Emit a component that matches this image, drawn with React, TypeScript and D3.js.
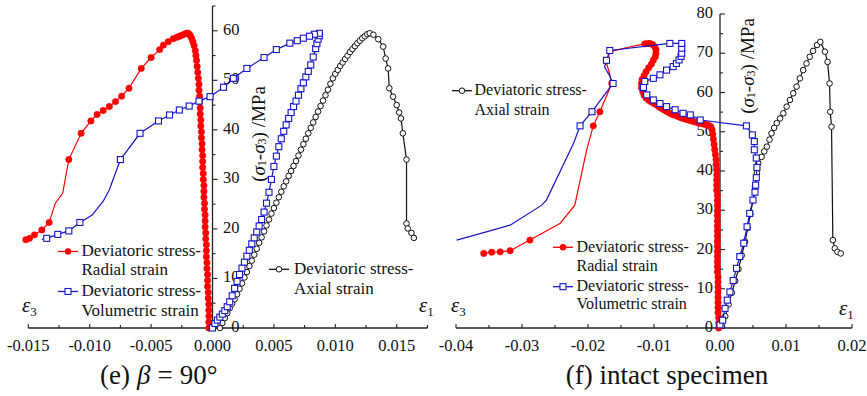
import React from "react";
import * as d3 from "d3";

// [strain, deviatoric stress (MPa), marker?]  marker flag 0 = line vertex only
type Pt = [number, number, number?];

// ---------- (e) beta = 90 deg ----------
const eRadial: Pt[] = [
  [-0.0003, 0], [-0.0003, 1.2], [-0.0003, 2.4], [-0.0003, 3.6], [-0.0003, 4.8], [-0.00035, 6], [-0.00035, 7.2],
  [-0.0004, 8.4], [-0.0004, 9.6], [-0.0004, 10.8], [-0.00045, 12], [-0.00045, 13.2], [-0.0005, 14.4],
  [-0.0005, 15.6], [-0.0005, 16.8], [-0.00055, 18], [-0.00055, 19.2], [-0.0006, 20.4], [-0.0006, 21.6],
  [-0.0006, 22.8], [-0.00065, 24], [-0.00065, 25.2], [-0.0007, 26.4], [-0.0007, 27.6], [-0.0007, 28.8],
  [-0.00075, 30], [-0.00075, 31.2], [-0.0008, 32.4], [-0.0008, 33.6], [-0.0008, 34.8], [-0.00085, 36],
  [-0.00085, 37.2], [-0.0009, 38.4], [-0.0009, 39.6], [-0.00095, 40.8], [-0.00095, 42], [-0.001, 43.2],
  [-0.001, 44.4], [-0.00105, 45.6], [-0.00105, 46.8], [-0.0011, 48], [-0.0011, 49.2], [-0.00115, 50.4],
  [-0.0012, 51.6], [-0.00125, 52.8], [-0.0013, 54], [-0.00135, 55], [-0.0014, 56], [-0.0015, 57],
  [-0.0016, 57.8], [-0.0017, 58.5], [-0.0018, 59], [-0.0019, 59.3], [-0.002, 59.5], [-0.0021, 59.5],
  [-0.0023, 59.3], [-0.0025, 59.1], [-0.0027, 58.9], [-0.0029, 58.7], [-0.0032, 58.4], [-0.0036, 57.8],
  [-0.004, 57.1], [-0.0043, 56.2], [-0.005, 54.6], [-0.0058, 52.4], [-0.0068, 48.4], [-0.0074, 46.8],
  [-0.0079, 45.7], [-0.0084, 44.7], [-0.0089, 43.9], [-0.0094, 43.1], [-0.0099, 41.8], [-0.0107, 39.3],
  [-0.0117, 34.0], [-0.0122, 27.2, 0], [-0.0128, 25.2, 0], [-0.0133, 21.3], [-0.0139, 19.8], [-0.0145, 18.8],
  [-0.0149, 18.1], [-0.0152, 17.8],
];

const eVolumetric: Pt[] = [
  [0.0, 0.0], [0.0002, 0.9], [0.0004, 1.6], [0.0006, 2.2], [0.0008, 2.8], [0.001, 3.5], [0.0012, 4.3],
  [0.0014, 5.3], [0.0016, 6.5], [0.0018, 8.0], [0.002, 9.4], [0.0022, 10.8], [0.0024, 12.1], [0.0026, 13.3],
  [0.0028, 14.5], [0.003, 15.7], [0.0032, 17.0], [0.0034, 18.2], [0.0036, 19.4], [0.0038, 20.6],
  [0.004, 21.9], [0.0042, 23.4], [0.0044, 25.2], [0.0046, 27.4], [0.0048, 30.0], [0.005, 32.6],
  [0.0052, 34.7], [0.0054, 36.6], [0.0056, 38.2], [0.0058, 39.7], [0.006, 41.0], [0.0062, 42.3],
  [0.0064, 43.5], [0.0066, 44.7], [0.0068, 45.8], [0.007, 47.0], [0.0072, 48.3], [0.0074, 49.5],
  [0.0076, 50.7], [0.0078, 51.8], [0.008, 53.1], [0.0082, 54.7], [0.0084, 56.4], [0.0085, 57.4],
  [0.0086, 58.3], [0.0087, 59.0], [0.0087, 59.5],
  [0.0083, 59.3], [0.0079, 58.9], [0.0074, 58.5], [0.0069, 58.0], [0.0063, 57.5], [0.0052, 56.2],
  [0.0042, 54.6], [0.0028, 52.4], [0.0017, 50.4], [0.0009, 48.6], [-0.0002, 46.7], [-0.0011, 45.8],
  [-0.0019, 44.8], [-0.0027, 44.0], [-0.0035, 43.0], [-0.0044, 41.8], [-0.0059, 39.3], [-0.0075, 34.0],
  [-0.0084, 27.9, 0], [-0.0089, 25.6, 0], [-0.0098, 22.8, 0], [-0.0108, 21.3], [-0.0117, 19.6],
  [-0.0126, 18.9], [-0.0135, 18.1], [-0.0139, 17.9, 0],
];

const eAxial: Pt[] = [
  [0.0006, 0], [0.0008, 1], [0.001, 2], [0.0012, 3], [0.0014, 4], [0.0016, 4.9], [0.0018, 5.8],
  [0.002, 6.8], [0.0022, 7.9], [0.0024, 9.0], [0.0026, 10.2], [0.0028, 11.3], [0.003, 12.5],
  [0.0032, 13.6], [0.0034, 14.8], [0.0036, 16.0], [0.0038, 17.2], [0.004, 18.3], [0.0042, 19.5],
  [0.0044, 20.7], [0.0046, 21.9], [0.0048, 23.1], [0.005, 24.2], [0.0052, 25.3], [0.0054, 26.4],
  [0.0056, 27.5], [0.0058, 28.6], [0.006, 29.6], [0.0062, 30.7], [0.0064, 31.7], [0.0066, 32.7],
  [0.0068, 33.7], [0.007, 34.8], [0.0072, 36.0], [0.0074, 37.1], [0.0076, 38.2], [0.0078, 39.3],
  [0.008, 40.4], [0.0082, 41.5], [0.0084, 42.6], [0.0086, 43.7], [0.0088, 44.8], [0.009, 45.9],
  [0.0092, 47.0], [0.0094, 48.1], [0.0096, 49.3], [0.0098, 50.4], [0.01, 51.3], [0.0102, 52.1],
  [0.0104, 52.9], [0.0106, 53.6], [0.0108, 54.3], [0.011, 55.0], [0.0112, 55.7], [0.0114, 56.3],
  [0.0116, 56.9], [0.0118, 57.5], [0.012, 58.0], [0.0122, 58.5], [0.0124, 58.9], [0.0126, 59.3],
  [0.0128, 59.5], [0.0131, 59.2], [0.0135, 58.3], [0.0139, 56.8], [0.0141, 54.4], [0.0143, 52.4],
  [0.0144, 48.4], [0.0147, 46.7], [0.015, 45.0], [0.0152, 43.5], [0.01535, 42.3], [0.0155, 39.3],
  [0.0158, 34.0], [0.0158, 21.1], [0.0159, 20.1], [0.0162, 19.2], [0.0164, 18.2],
];

// ---------- (f) intact specimen ----------
const fRadial: Pt[] = [
  [-0.0002, 0], [-0.0002, 1.3], [-0.0002, 2.6], [-0.0003, 3.9], [-0.0003, 5.2], [-0.0003, 6.5],
  [-0.0003, 7.8], [-0.0003, 9.1], [-0.0003, 10.4], [-0.0003, 11.7], [-0.0003, 13], [-0.0004, 14.3],
  [-0.0004, 15.6], [-0.0004, 16.9], [-0.0004, 18.2], [-0.0004, 19.5], [-0.0004, 20.8], [-0.0004, 22.1],
  [-0.0004, 23.4], [-0.0004, 24.7], [-0.0004, 26], [-0.0004, 27.3], [-0.0004, 28.6], [-0.0004, 29.9],
  [-0.0004, 31.2], [-0.0004, 32.5], [-0.0004, 33.8], [-0.0005, 35.1], [-0.0005, 36.4], [-0.0005, 37.7],
  [-0.0005, 39], [-0.0005, 40.3], [-0.0006, 41.6], [-0.0006, 42.9], [-0.0007, 44.2], [-0.0008, 45.5],
  [-0.0009, 46.8], [-0.001, 48.1], [-0.0011, 49.4], [-0.0012, 50.5], [-0.0014, 51.3], [-0.0017, 51.6],
  [-0.002, 51.8], [-0.0024, 51.9], [-0.0028, 52.1], [-0.0032, 52.2], [-0.0036, 52.4], [-0.004, 52.6],
  [-0.0044, 52.8], [-0.0048, 53.0], [-0.0052, 53.2], [-0.0056, 53.4], [-0.006, 53.6], [-0.0064, 53.9],
  [-0.0068, 54.2], [-0.0072, 54.4], [-0.0076, 54.7], [-0.008, 55.1], [-0.0084, 55.5], [-0.0088, 55.9],
  [-0.0092, 56.3], [-0.0096, 56.8], [-0.01, 57.2], [-0.0104, 57.6], [-0.0108, 58.0], [-0.0112, 58.6],
  [-0.0115, 59.3], [-0.0117, 60.2], [-0.0119, 61.2], [-0.0119, 62.3], [-0.0118, 63.3], [-0.0115, 64.3],
  [-0.0112, 65.3], [-0.0108, 66.3], [-0.0104, 67.2], [-0.0101, 68.2], [-0.0098, 69.1], [-0.0097, 70.0],
  [-0.0097, 70.9], [-0.0099, 71.7], [-0.0102, 72.2], [-0.0106, 72.5], [-0.011, 72.5], [-0.0114, 72.4],
  [-0.012, 72.2, 0], [-0.0137, 71.6, 0], [-0.0157, 70.8, 0], [-0.0167, 70.4, 0], [-0.0172, 67.4, 0],
  [-0.0168, 65.3, 0], [-0.0164, 62.3], [-0.0182, 55.1], [-0.0192, 51.5], [-0.0202, 45.4, 0],
  [-0.0215, 35.2, 0], [-0.022, 31.3, 0], [-0.0242, 26.7, 0], [-0.0288, 22.4], [-0.0318, 19.7],
  [-0.0333, 19.4], [-0.0346, 19.3], [-0.0358, 19.0],
];

const fVolumetric: Pt[] = [
  [0.0, 0.8], [0.0004, 2.0], [0.00076, 5.0], [0.0011, 7.1], [0.0015, 9.2], [0.002, 12.1], [0.0025, 15.2],
  [0.003, 18.2], [0.0036, 21.6], [0.0041, 25.8], [0.0045, 29.2], [0.005, 32.6], [0.0053, 34.6],
  [0.0054, 36.4], [0.0055, 38.3], [0.0056, 40.9], [0.0055, 43.3], [0.0052, 45.4], [0.0052, 47.5],
  [0.0049, 49.2], [0.004, 51.5], [-0.003, 53.0], [-0.0045, 54.3], [-0.0056, 54.7], [-0.0068, 55.6],
  [-0.0081, 56.4], [-0.0091, 57.2], [-0.0101, 58.1], [-0.0111, 59.4], [-0.0116, 61.3], [-0.0114, 62.8],
  [-0.0101, 63.6], [-0.0091, 64.5], [-0.0081, 65.7], [-0.0071, 66.6], [-0.0066, 67.4], [-0.0062, 68.3],
  [-0.0059, 69.2], [-0.0058, 70.0], [-0.0058, 71.3], [-0.0058, 72.5], [-0.0076, 72.5], [-0.0167, 70.7],
  [-0.0172, 68.2], [-0.0175, 66.5, 0], [-0.0168, 64.5, 0], [-0.0162, 62.3], [-0.0194, 55.1],
  [-0.0212, 51.5], [-0.0222, 47.0, 0], [-0.0263, 32.6, 0], [-0.027, 31.3, 0], [-0.0318, 26.2, 0],
  [-0.0354, 24.5, 0], [-0.0399, 22.4, 0],
];

const fAxial: Pt[] = [
  [0.0003, 0.5], [0.0008, 3], [0.0013, 6], [0.0018, 9], [0.0023, 12], [0.0028, 15], [0.0033, 18.5],
  [0.0038, 22], [0.0042, 25.5], [0.0046, 29], [0.005, 32.5], [0.0053, 36.0], [0.0056, 39.5],
  [0.0058, 42.0], [0.0063, 43.6], [0.0067, 45], [0.0071, 46.2], [0.0075, 48], [0.0078, 49.6],
  [0.0082, 51], [0.0086, 52.2], [0.0091, 53.4], [0.0096, 54.7], [0.0101, 56.4], [0.0106, 58.1],
  [0.0111, 59.8], [0.0116, 61.5], [0.0121, 63.6], [0.0126, 65.7], [0.0131, 67.4], [0.0136, 69.1],
  [0.0141, 70.6], [0.0147, 72.1], [0.0152, 72.9], [0.0159, 70.4], [0.0163, 67.8], [0.0166, 62.3],
  [0.0167, 55.1], [0.0169, 51.3], [0.0171, 22.4], [0.0174, 20.3], [0.0178, 19.4], [0.0183, 19.0],
];

// tick values
const eXTicks = [-0.015, -0.01, -0.005, 0, 0.005, 0.01, 0.015];
const eXMinor = [-0.0125, -0.0075, -0.0025, 0.0025, 0.0075, 0.0125, 0.0175];
const eYTicks = [0, 10, 20, 30, 40, 50, 60];
const eYMinor = [5, 15, 25, 35, 45, 55, 65];
const fXTicks = [-0.04, -0.03, -0.02, -0.01, 0, 0.01, 0.02];
const fXMinor = [-0.035, -0.025, -0.015, -0.005, 0.005, 0.015];
const fYTicks = [0, 10, 20, 30, 40, 50, 60, 70, 80];
const fYMinor = [5, 15, 25, 35, 45, 55, 65, 75];

const RED = "#ff0000";
const BLUE = "#1414c8";
const BLACK = "#111";
const AXIS = "#222";
const FONT = "'Liberation Serif', 'Times New Roman', serif";

type Scale = d3.ScaleLinear<number, number>;
type Kind = "dot" | "square" | "ring";

function Series({ data, sx, sy, kind, color }: { data: Pt[]; sx: Scale; sy: Scale; kind: Kind; color: string }) {
  const line = d3.line<Pt>().x((d) => sx(d[0])).y((d) => sy(d[1]));
  const marks = data.filter((d) => d[2] !== 0);
  return (
    <g>
      <path d={line(data) ?? ""} fill="none" stroke={color} strokeWidth={1.2} />
      {marks.map((d, i) => {
        const x = sx(d[0]);
        const y = sy(d[1]);
        if (kind === "dot") return <circle key={i} cx={x} cy={y} r={3.2} fill={color} stroke={color} strokeWidth={0.5} />;
        if (kind === "square")
          return <rect key={i} x={x - 3} y={y - 3} width={6} height={6} fill="#fff" stroke={color} strokeWidth={1.1} />;
        return <circle key={i} cx={x} cy={y} r={2.8} fill="#fff" stroke={color} strokeWidth={1} />;
      })}
    </g>
  );
}

function LegendSym({ x, y, kind, color }: { x: number; y: number; kind: Kind; color: string }) {
  return (
    <g>
      <line x1={x - 10} x2={x + 10} y1={y} y2={y} stroke={color} strokeWidth={1.3} />
      {kind === "dot" && <circle cx={x} cy={y} r={3.2} fill={color} />}
      {kind === "square" && <rect x={x - 3} y={y - 3} width={6} height={6} fill="#fff" stroke={color} strokeWidth={1.1} />}
      {kind === "ring" && <circle cx={x} cy={y} r={2.8} fill="#fff" stroke={color} strokeWidth={1} />}
    </g>
  );
}

function Axes({ sx, sy, xt, xm, yt, ym, xfmt, yLabelRight }: {
  sx: Scale; sy: Scale; xt: number[]; xm: number[]; yt: number[]; ym: number[];
  xfmt: (v: number) => string; yLabelRight: boolean;
}) {
  const [x0, x1] = sx.range();
  const [yb, ytop] = sy.range();
  const ax = sx(0);
  return (
    <g fontFamily={FONT} fill="#111">
      <line x1={x0} x2={x1} y1={yb} y2={yb} stroke={AXIS} strokeWidth={1.3} />
      <line x1={ax} x2={ax} y1={yb} y2={ytop} stroke={AXIS} strokeWidth={1.3} />
      {xt.map((v) => (
        <g key={"xt" + v}>
          <line x1={sx(v)} x2={sx(v)} y1={yb} y2={yb - 4} stroke={AXIS} strokeWidth={1.1} />
          <text x={sx(v)} y={yb + 22.5} textAnchor="middle" fontSize={16.5}>{xfmt(v)}</text>
        </g>
      ))}
      {xm.map((v) => (
        <line key={"xm" + v} x1={sx(v)} x2={sx(v)} y1={yb} y2={yb - 3} stroke={AXIS} strokeWidth={1.1} />
      ))}
      {yt.map((v) => (
        <g key={"yt" + v}>
          <line x1={ax} x2={ax + 5} y1={sy(v)} y2={sy(v)} stroke={AXIS} strokeWidth={1.1} />
          <text x={yLabelRight ? ax + 27 : ax - 7} y={sy(v) + 4} textAnchor="end" fontSize={16.5}>{v}</text>
        </g>
      ))}
      {ym.map((v) => (
        <line key={"ym" + v} x1={ax} x2={ax + 3} y1={sy(v)} y2={sy(v)} stroke={AXIS} strokeWidth={1.1} />
      ))}
    </g>
  );
}

function YTitle({ x, y }: { x: number; y: number }) {
  return (
    <text transform={`translate(${x},${y}) rotate(-90)`} textAnchor="middle" dominantBaseline="central" fontFamily={FONT} fontSize={19} fill="#111">
      (<tspan fontStyle="italic">σ</tspan><tspan fontSize={12} dy={4}>1</tspan><tspan dy={-4}>-</tspan>
      <tspan fontStyle="italic">σ</tspan><tspan fontSize={12} dy={4}>3</tspan><tspan dy={-4}>) /MPa</tspan>
    </text>
  );
}

function Eps({ x, y, sub }: { x: number; y: number; sub: string }) {
  return (
    <text x={x} y={y} fontFamily={FONT} fontSize={21} fill="#111">
      <tspan fontStyle="italic">ε</tspan><tspan fontSize={13} dy={4}>{sub}</tspan>
    </text>
  );
}

export default function App() {
  const xE = d3.scaleLinear().domain([-0.015, 0.0175]).range([28.3, 427.4]);
  const yE = d3.scaleLinear().domain([0, 65]).range([328, 6]);
  const xF = d3.scaleLinear().domain([-0.04, 0.02]).range([456, 852]);
  const yF = d3.scaleLinear().domain([0, 80]).range([328, 14]);

  const fmtE = (v: number) => (Math.abs(v) < 1e-9 ? "0.000" : v.toFixed(3));
  const fmtF = (v: number) => (Math.abs(v) < 1e-9 ? "0.00" : v.toFixed(2));

  return (
    <svg width={867} height={396} style={{ position: "absolute", left: 0, top: 0, background: "#fff" }}>
      <rect width={867} height={396} fill="#fff" />

      {/* panel (e) */}
      <Axes sx={xE} sy={yE} xt={eXTicks} xm={eXMinor} yt={eYTicks} ym={eYMinor} xfmt={fmtE} yLabelRight={true} />
      <Series data={eAxial} sx={xE} sy={yE} kind="ring" color={BLACK} />
      <Series data={eRadial} sx={xE} sy={yE} kind="dot" color={RED} />
      <Series data={eVolumetric} sx={xE} sy={yE} kind="square" color={BLUE} />
      <YTitle x={258} y={134} />
      <Eps x={22} y={312} sub="3" />
      <Eps x={419} y={312} sub="1" />

      <g fontFamily={FONT} fontSize={17} fill="#111">
        <LegendSym x={68} y={251.5} kind="dot" color={RED} />
        <text x={81.5} y={256}>Deviatoric stress-</text>
        <text x={81.5} y={275}>Radial strain</text>
        <LegendSym x={68} y={291.5} kind="square" color={BLUE} />
        <text x={81.5} y={296}>Deviatoric stress-</text>
        <text x={81.5} y={316}>Volumetric strain</text>
        <LegendSym x={279} y={269.3} kind="ring" color={BLACK} />
        <text x={294} y={274}>Deviatoric stress-</text>
        <text x={294} y={294}>Axial strain</text>
      </g>
      <text x={100} y={384} fontFamily={FONT} fontSize={27} fill="#111">
        (e)<tspan dx={7} fontStyle="italic">β</tspan><tspan dx={7}>=</tspan><tspan dx={7}>90°</tspan>
      </text>

      {/* panel (f) */}
      <Axes sx={xF} sy={yF} xt={fXTicks} xm={fXMinor} yt={fYTicks} ym={fYMinor} xfmt={fmtF} yLabelRight={false} />
      <Series data={fAxial} sx={xF} sy={yF} kind="ring" color={BLACK} />
      <Series data={fRadial} sx={xF} sy={yF} kind="dot" color={RED} />
      <Series data={fVolumetric} sx={xF} sy={yF} kind="square" color={BLUE} />
      <YTitle x={747} y={66} />
      <Eps x={451} y={312} sub="3" />
      <Eps x={839} y={315} sub="1" />

      <g fontFamily={FONT} fontSize={16} fill="#111">
        <LegendSym x={462} y={90.7} kind="ring" color={BLACK} />
        <text x={474.5} y={95}>Deviatoric stress-</text>
        <text x={474.5} y={114.5}>Axial strain</text>
        <LegendSym x={563} y={247.3} kind="dot" color={RED} />
        <text x={576.5} y={252}>Deviatoric stress-</text>
        <text x={576.5} y={270.5}>Radial strain</text>
        <LegendSym x={563} y={286.7} kind="square" color={BLUE} />
        <text x={576.5} y={291}>Deviatoric stress-</text>
        <text x={576.5} y={309}>Volumetric strain</text>
      </g>
      <text x={667} y={384} textAnchor="middle" fontFamily={FONT} fontSize={27} fill="#111">
        (f) intact specimen
      </text>
    </svg>
  );
}
